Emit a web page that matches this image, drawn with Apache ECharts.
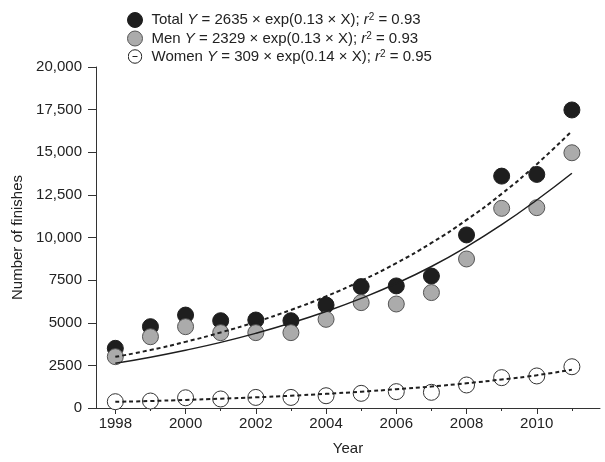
<!DOCTYPE html>
<html>
<head>
<meta charset="utf-8">
<script src="https://cdn.jsdelivr.net/npm/echarts@6/dist/echarts.min.js"></script>
<style>html,body{margin:0;padding:0;background:#fff;}#c{width:605px;height:462px;}</style>
</head>
<body>
<div id="c"></div>
<script>
const years = [1998,1999,2000,2001,2002,2003,2004,2005,2006,2007,2008,2009,2010,2011];
const totalFinishes = [3500,4770,5450,5120,5160,5120,6040,7120,7160,7740,10150,13600,13700,17480];
const menFinishes   = [3010,4180,4770,4420,4420,4420,5200,6180,6100,6770,8740,11710,11750,14970];
const womenFinishes = [370,410,600,530,620,620,720,860,960,920,1350,1780,1880,2420];
const totalTrend = [3000,3400,3880,4430,5050,5750,6550,7460,8500,9680,11030,12560,14300,16250];
const menTrend   = [2620,2980,3390,3850,4380,4980,5660,6430,7300,8300,9450,10750,12200,13770];
const womenTrend = [360,410,475,545,625,720,830,955,1100,1260,1450,1670,1920,2250];
const majorYears = [1998,2000,2002,2004,2006,2008,2010];
const minorYears = [1999,2001,2003,2005,2007,2009,2011];
const legendNames = ['Total','Men','Women'];
const legendEq = {
  Total: {a:'2635', b:'0.13', r:'0.93'},
  Men:   {a:'2329', b:'0.13', r:'0.93'},
  Women: {a:'309',  b:'0.14', r:'0.95'}
};

const pairs = (vals) => years.map((y,i)=>[y, vals[i]]);
const ink = '#1e1e1e';
const womenIcon = 'image://data:image/svg+xml;utf8,' + encodeURIComponent(
  '<svg xmlns="http://www.w3.org/2000/svg" width="30" height="30"><circle cx="15" cy="15" r="13.5" fill="white" stroke="#222" stroke-width="2"/><line x1="10" y1="15" x2="20" y2="15" stroke="#222" stroke-width="2.2"/></svg>');

const chart = echarts.init(document.getElementById('c'), null, {renderer:'canvas'});
const font = 'Liberation Sans, Arial, sans-serif';
chart.setOption({
  animation: false,
  backgroundColor: '#fff',
  textStyle: {fontFamily: font},
  legend: {
    orient: 'vertical', left: 122, top: 7,
    itemWidth: 15, itemHeight: 15, itemGap: 2,
    selectedMode: false,
    data: [
      {name:'Total', icon:'circle', itemStyle:{color:ink, borderColor:ink, borderWidth:1}},
      {name:'Men', icon:'circle', itemStyle:{color:'#ababab', borderColor:'#555', borderWidth:1}},
      {name:'Women', icon: womenIcon}
    ],
    formatter: function(n){
      const e = legendEq[n];
      return n + ' {i|Y} = ' + e.a + ' × exp(' + e.b + ' × X); {i|r}{s|2} = ' + e.r;
    },
    textStyle: {
      fontFamily: font, fontSize: 15, color: '#222', padding:[0,0,0,4],
      rich: {
        i: {fontStyle:'italic', fontFamily: font, fontSize: 15, color:'#222'},
        s: {fontFamily: font, fontSize: 10, color:'#222', verticalAlign:'top', lineHeight: 10, padding:[0,0,6,0]}
      }
    }
  },
  grid: {left: 96, right: 5, top: 67, bottom: 54},
  xAxis: [{
    type: 'value', min: 1997.45, max: 2011.8,
    name: 'Year', nameLocation: 'middle', nameGap: 33,
    nameTextStyle: {fontSize: 15, color: '#222', fontFamily: font},
    axisLine: {show: true, onZero: false, lineStyle: {color: '#333', width: 1}},
    axisTick: {show: true, length: 6, lineStyle: {color:'#333'}, customValues: majorYears},
    axisLabel: {fontSize: 15, color: '#222', margin: 8, customValues: majorYears, fontFamily: font,
      formatter: v => String(v)},
    splitLine: {show: false}
  },{
    type: 'value', min: 1997.45, max: 2011.8, position: 'bottom',
    axisLine: {show: false},
    axisTick: {show: true, length: 3, lineStyle: {color:'#333'}, customValues: minorYears},
    axisLabel: {show: false},
    splitLine: {show: false}
  }],
  yAxis: {
    type: 'value', min: 0, max: 20000, interval: 2500,
    name: 'Number of finishes', nameLocation: 'middle', nameGap: 61,
    nameTextStyle: {fontSize: 15, color: '#222', fontFamily: font},
    axisLine: {show: true, lineStyle: {color: '#333', width: 1}},
    axisTick: {show: true, length: 8, lineStyle: {color:'#333'}},
    axisLabel: {fontSize: 15, color: '#222', margin: 14, fontFamily: font,
      formatter: v => v >= 10000 ? v.toLocaleString('en-US') : String(v)},
    splitLine: {show: false}
  },
  series: [
    {name:'Total', type:'scatter', data: pairs(totalFinishes), symbolSize: 16, z: 2,
      itemStyle:{color: ink, borderColor: ink, borderWidth: 1, opacity: 1}},
    {name:'Men', type:'scatter', data: pairs(menFinishes), symbolSize: 16, z: 3,
      itemStyle:{color:'#ababab', borderColor:'#555', borderWidth: 1, opacity: 1}},
    {name:'Women', type:'scatter', data: pairs(womenFinishes), symbolSize: 16, z: 3,
      itemStyle:{color:'#fff', borderColor:'#333', borderWidth: 1, opacity: 1}},
    {name:'Total fit', type:'line', data: pairs(totalTrend), smooth: true, showSymbol: false, symbol:'none', z: 5,
      lineStyle:{color: ink, width: 2, type: [4,3]}},
    {name:'Men fit', type:'line', data: pairs(menTrend), smooth: true, showSymbol: false, symbol:'none', z: 5,
      lineStyle:{color: ink, width: 1.5}},
    {name:'Women fit', type:'line', data: pairs(womenTrend), smooth: true, showSymbol: false, symbol:'none', z: 5,
      lineStyle:{color: ink, width: 2, type: [4,3]}}
  ]
});
</script>
</body>
</html>
